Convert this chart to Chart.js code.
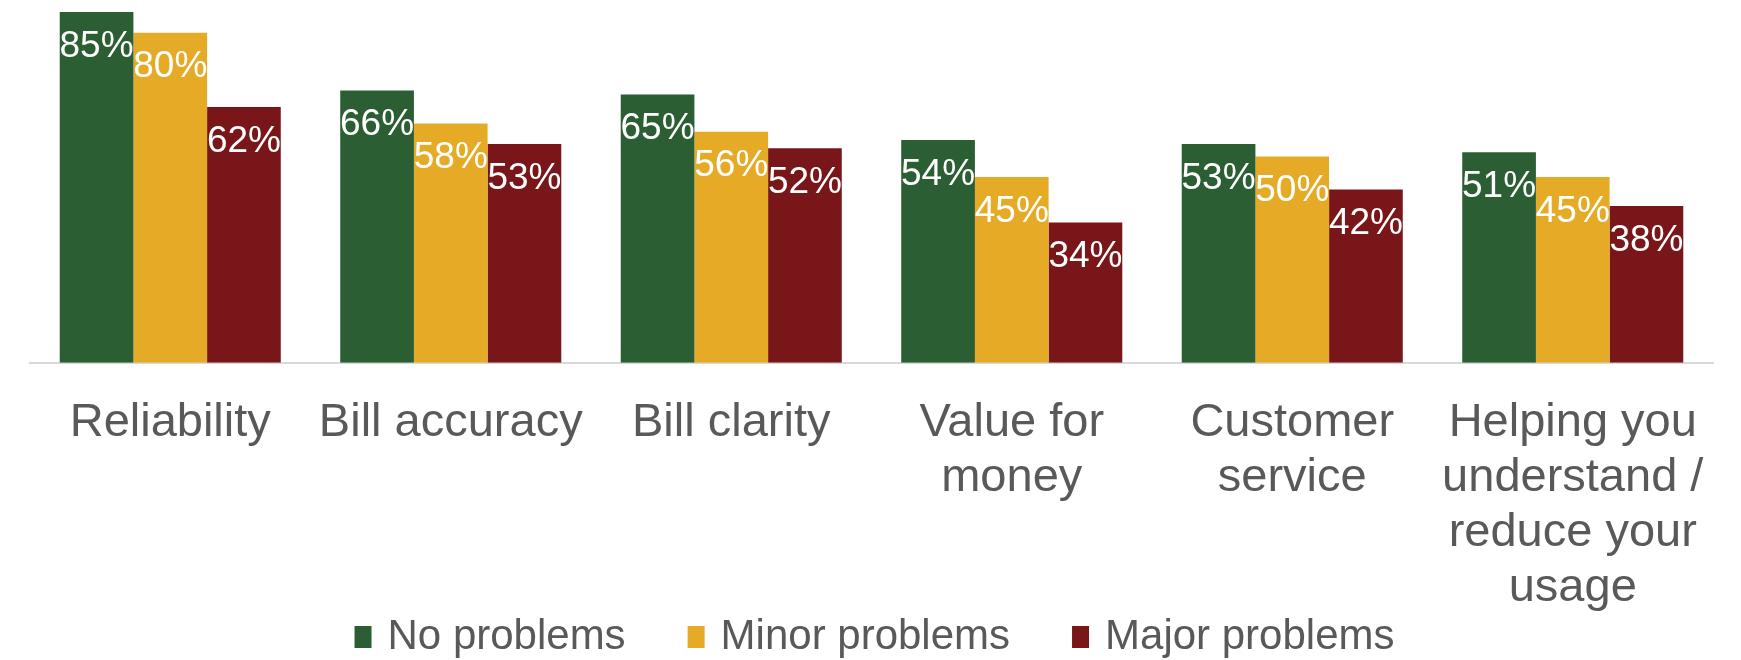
<!DOCTYPE html>
<html>
<head>
<meta charset="utf-8">
<title>Satisfaction by problems experienced</title>
<script src="https://cdn.jsdelivr.net/npm/chart.js@4.4.1/dist/chart.umd.min.js"></script>
<style>
  html, body { margin: 0; padding: 0; background: #fff; }
  #chart { display: block; }
</style>
</head>
<body>
<canvas id="chart" width="1741" height="660"></canvas>
<script>
// categories and series (percent satisfied)
const categories = [
  'Reliability',
  'Bill accuracy',
  'Bill clarity',
  ['Value for', 'money'],
  ['Customer', 'service'],
  ['Helping you', 'understand /', 'reduce your', 'usage']
];
const noProblems    = [85, 66, 65, 54, 53, 51];
const minorProblems = [80, 58, 56, 45, 50, 45];
const majorProblems = [62, 53, 52, 34, 42, 38];

const seriesNames  = ['No problems', 'Minor problems', 'Major problems'];
const seriesColors = ['#2C5E34', '#E5AB27', '#79161A'];

const FONT = '"Liberation Sans", Arial, sans-serif';
Chart.defaults.font.family = FONT;
Chart.defaults.color = '#595959';

// white % labels just inside the top of each bar
const insideLabels = {
  id: 'insideLabels',
  afterDatasetsDraw(chart) {
    const ctx = chart.ctx;
    ctx.save();
    ctx.fillStyle = '#ffffff';
    ctx.font = '37px ' + FONT;
    ctx.textAlign = 'center';
    ctx.textBaseline = 'middle';
    chart.data.datasets.forEach((ds, i) => {
      chart.getDatasetMeta(i).data.forEach((bar, j) => {
        ctx.fillText(ds.data[j] + '%', bar.x, bar.y + 34.5);
      });
    });
    ctx.restore();
  }
};

// single-row legend under the axis labels
const bottomLegend = {
  id: 'bottomLegend',
  afterDraw(chart) {
    const ctx = chart.ctx;
    const boxW = 17, boxH = 22, textGap = 16, itemGap = 62, midY = 637;
    ctx.save();
    ctx.font = '42px ' + FONT;
    ctx.textBaseline = 'middle';
    ctx.textAlign = 'left';
    const items = chart.data.datasets.map(ds => ({
      text: ds.label,
      color: ds.backgroundColor,
      w: boxW + textGap + ctx.measureText(ds.label).width
    }));
    const total = items.reduce((s, it) => s + it.w, 0) + itemGap * (items.length - 1);
    let x = (chart.width - total) / 2 + 4;
    items.forEach(it => {
      ctx.fillStyle = it.color;
      ctx.fillRect(x, midY - boxH / 2, boxW, boxH);
      ctx.fillStyle = '#595959';
      ctx.fillText(it.text, x + boxW + textGap, midY);
      x += it.w + itemGap;
    });
    ctx.restore();
  }
};

new Chart(document.getElementById('chart'), {
  type: 'bar',
  data: {
    labels: categories,
    datasets: [noProblems, minorProblems, majorProblems].map((d, i) => ({
      label: seriesNames[i],
      data: d,
      backgroundColor: seriesColors[i],
      categoryPercentage: 0.788,
      barPercentage: 1.0
    }))
  },
  options: {
    responsive: false,
    animation: false,
    layout: { padding: { top: 12, left: 30, right: 28, bottom: 0 } },
    scales: {
      x: {
        grid: { display: false, drawTicks: false },
        border: { display: true, color: '#D9D9D9', width: 2 },
        ticks: {
          autoSkip: false,
          maxRotation: 0,
          minRotation: 0,
          padding: 33,
          color: '#595959',
          font: { size: 47, lineHeight: 1.17 }
        },
        afterFit(scale) { scale.height = 297.3; }
      },
      y: {
        display: false,
        min: 0,
        max: 85
      }
    },
    plugins: {
      tooltip: { enabled: false },
      legend: { display: false }
    }
  },
  plugins: [insideLabels, bottomLegend]
});
</script>
</body>
</html>
